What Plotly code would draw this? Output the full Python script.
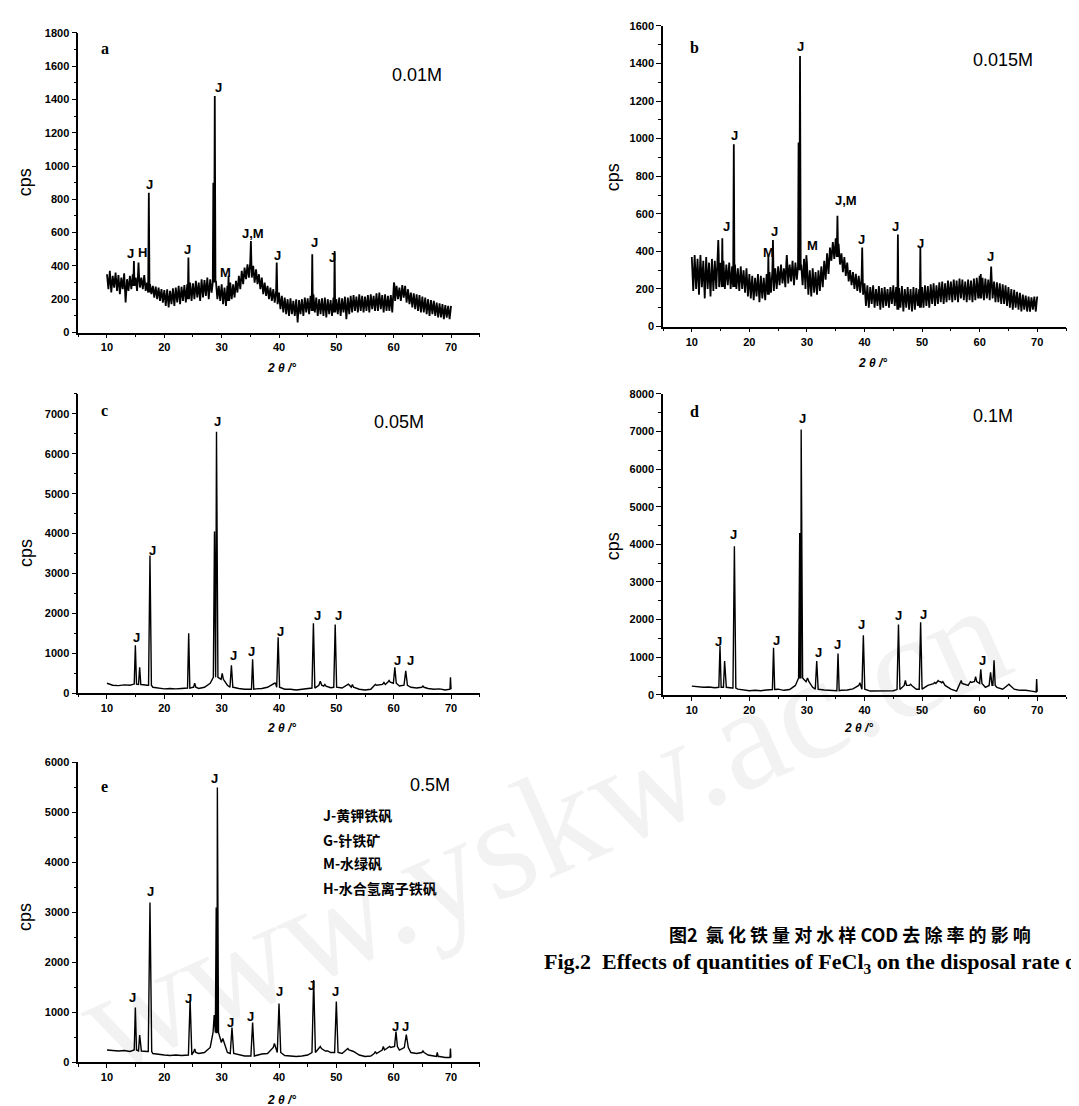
import numpy as np
import plotly.graph_objects as go

W, H = 1079, 1106

# ---------------- data ----------------
x_fine = np.arange(10, 70.001, 0.25)   # panels a, b background grid (2theta)
x_coarse = np.arange(10, 70.001, 1.0)  # panels c, d, e background grid

# Panel a: 0.01M  (noisy background, 0.25 deg steps)
a_bg = [350, 260, 370, 240, 340, 270, 360, 250, 345, 230, 330, 260, 355, 180, 320, 250, 340, 260, 350, 280,
        330, 250, 340, 270, 330, 260, 345, 250, 300, 240, 290, 230, 280, 210, 275, 200, 270, 190, 260, 180,
        255, 160, 260, 150, 250, 170, 265, 160, 270, 180, 280, 170, 275, 190, 285, 180, 290, 200, 300, 190,
        295, 200, 310, 210, 300, 190, 320, 210, 315, 220, 330, 200, 320, 240, 300, 300, 310, 200, 280, 190,
        290, 170, 270, 160, 280, 190, 300, 200, 290, 210, 310, 240, 340, 260, 370, 290, 390, 320, 410, 330,
        420, 330, 400, 300, 380, 290, 350, 260, 330, 230, 300, 220, 280, 200, 270, 190, 260, 180, 250, 170,
        240, 140, 220, 120, 210, 110, 200, 100, 205, 110, 190, 100, 200, 60, 195, 110, 200, 100, 210, 120,
        205, 110, 220, 130, 230, 120, 210, 100, 200, 110, 205, 100, 210, 90, 200, 110, 195, 100, 210, 120,
        200, 110, 210, 100, 205, 120, 215, 80, 210, 110, 220, 120, 225, 130, 215, 120, 230, 130, 220, 120,
        215, 130, 225, 120, 230, 140, 220, 130, 235, 130, 240, 140, 225, 120, 230, 130, 220, 130, 225, 120,
        290, 190, 280, 200, 270, 190, 285, 210, 280, 180, 260, 170, 240, 150, 235, 140, 230, 130, 225, 120,
        215, 120, 210, 110, 200, 100, 195, 110, 190, 100, 180, 90, 175, 90, 170, 80, 165, 90, 160, 80,
        160]
a_pk_pos = [14.7, 15.5, 17.3, 24.2, 28.55, 28.8, 31.2, 35.1, 39.6, 45.8, 49.7, 60.05]
a_pk_h = [430, 420, 840, 450, 900, 1420, 340, 550, 420, 470, 490, 300]
a_pk_w = [0.1, 0.1, 0.12, 0.1, 0.1, 0.12, 0.12, 0.12, 0.1, 0.1, 0.1, 0.06]
a_lab_x = [14.1, 16.2, 17.45, 24.1, 29.5, 30.7, 35.5, 39.8, 46.2, 49.4]
a_lab_y = [477, 480, 887, 501, 1474, 362, 596, 461, 541, 452]
a_lab_t = ["J", "H", "J", "J", "J", "M", "J,M", "J", "J", "J"]

# Panel b: 0.015M
b_bg = [370, 190, 380, 200, 360, 170, 380, 210, 350, 150, 370, 200, 340, 160, 360, 190, 350, 200, 380, 210,
        340, 210, 350, 200, 330, 220, 340, 200, 320, 210, 330, 200, 310, 190, 320, 200, 300, 180, 310, 160,
        280, 150, 270, 140, 260, 160, 280, 130, 270, 150, 260, 140, 280, 170, 290, 180, 300, 190, 310, 200,
        320, 220, 330, 230, 310, 210, 340, 230, 330, 240, 350, 220, 340, 250, 320, 300, 330, 220, 360, 200,
        340, 170, 300, 160, 310, 180, 290, 170, 300, 190, 320, 210, 350, 250, 390, 280, 420, 350, 450, 360,
        470, 370, 440, 330, 390, 290, 370, 270, 340, 240, 300, 220, 290, 200, 280, 190, 270, 180, 260, 170,
        230, 110, 220, 100, 210, 120, 220, 100, 200, 110, 215, 90, 205, 100, 210, 110, 200, 100, 210, 120,
        220, 110, 210, 90, 205, 100, 215, 80, 200, 100, 210, 90, 200, 80, 210, 90, 205, 110, 200, 100,
        210, 100, 220, 110, 215, 100, 225, 120, 230, 110, 220, 120, 235, 130, 240, 120, 230, 130, 245, 140,
        240, 130, 250, 140, 245, 130, 255, 150, 250, 140, 240, 130, 250, 140, 245, 130, 255, 140, 260, 150,
        270, 150, 260, 140, 255, 150, 250, 140, 245, 150, 240, 130, 235, 130, 230, 120, 225, 120, 220, 110,
        210, 100, 200, 90, 195, 100, 185, 90, 180, 80, 170, 90, 165, 80, 160, 80, 155, 90, 160, 80,
        160]
b_pk_pos = [14.6, 15.3, 17.3, 23.3, 24.1, 26.5, 28.55, 28.8, 29.9, 35.3, 39.6, 45.8, 49.7, 60.2, 62.0]
b_pk_h = [460, 470, 970, 380, 460, 380, 980, 1440, 380, 590, 420, 490, 420, 280, 320]
b_pk_w = [0.08, 0.1, 0.12, 0.1, 0.1, 0.08, 0.1, 0.12, 0.1, 0.12, 0.1, 0.1, 0.1, 0.08, 0.1]
b_lab_x = [16.0, 17.5, 23.3, 24.4, 28.9, 30.9, 36.8, 39.4, 45.3, 49.7, 61.9]
b_lab_y = [532, 1017, 396, 505, 1488, 432, 672, 465, 532, 444, 374]
b_lab_t = ["J", "J", "M", "J", "J", "M", "J,M", "J", "J", "J", "J"]

# Panel c: 0.05M
c_bg = [250, 200, 190, 210, 200, 230, 220, 200, 150, 130,
        110, 120, 110, 120, 130, 150, 120, 150, 250, 400,
        350, 200, 150, 120, 100, 100, 110, 120, 150, 250,
        150, 100, 100, 80, 100, 120, 130, 200, 180, 140,
        150, 130, 200, 150, 100, 80, 100, 200, 220, 280,
        250, 180, 200, 150, 130, 150, 120, 100, 110, 80,
        100]
c_pk_pos = [14.95, 15.7, 17.5, 24.25, 25.3, 28.75, 29.1, 30.1, 31.7, 35.4, 39.2, 39.85,
            46.0, 47.2, 48.0, 49.8, 52.1, 52.8, 56.8, 58.3, 59.2, 60.2, 62.1, 65.1, 69.9]
c_pk_h = [1200, 650, 3450, 1500, 250, 4050, 6550, 500, 700, 850, 250, 1400,
          1750, 300, 220, 1720, 230, 220, 220, 270, 320, 650, 560, 180, 400]
c_pk_w = [0.2, 0.2, 0.25, 0.2, 0.2, 0.2, 0.25, 0.2, 0.25, 0.2, 0.2, 0.25,
          0.25, 0.25, 0.2, 0.25, 0.2, 0.2, 0.2, 0.25, 0.2, 0.25, 0.3, 0.2, 0.08]
c_lab_x = [15.1, 17.9, 29.2, 32.1, 35.2, 40.2, 46.7, 50.3, 60.6, 62.9]
c_lab_y = [1405, 3580, 6800, 950, 1058, 1545, 1943, 1960, 828, 810]
c_lab_t = ["J"] * 10

# Panel d: 0.1M
d_bg = [230, 210, 200, 210, 190, 200, 200, 180, 150, 120,
        110, 120, 110, 130, 140, 150, 120, 140, 250, 450,
        350, 200, 150, 130, 120, 110, 120, 130, 160, 250,
        150, 100, 100, 90, 100, 110, 140, 250, 250, 150,
        150, 250, 300, 350, 250, 150, 100, 300, 250, 350,
        300, 200, 250, 200, 150, 250, 150, 120, 120, 100,
        80]
d_pk_pos = [14.9, 15.7, 17.4, 24.2, 28.75, 29.0, 30.1, 31.7, 35.4, 39.2, 39.8, 45.9,
            47.1, 48.0, 49.75, 52.2, 52.8, 53.4, 56.8, 58.6, 59.3, 60.2, 61.9, 62.5, 65.1, 69.9]
d_pk_h = [1300, 900, 3950, 1250, 4300, 7050, 450, 900, 1100, 320, 1580, 1870,
          380, 280, 1930, 330, 380, 320, 380, 330, 480, 680, 600, 920, 280, 420]
d_pk_w = [0.2, 0.2, 0.25, 0.2, 0.2, 0.25, 0.25, 0.25, 0.2, 0.2, 0.25, 0.25,
          0.2, 0.2, 0.25, 0.2, 0.2, 0.2, 0.15, 0.2, 0.2, 0.2, 0.25, 0.2, 0.2, 0.08]
d_lab_x = [14.6, 17.3, 24.7, 29.2, 32.0, 35.3, 39.5, 45.9, 50.2, 60.5]
d_lab_y = [1420, 4250, 1446, 7335, 1138, 1330, 1882, 2103, 2129, 920]
d_lab_t = ["J"] * 10

# Panel e: 0.5M
e_bg = [250, 240, 230, 240, 220, 250, 230, 220, 180, 160,
        150, 140, 150, 140, 150, 200, 180, 200, 300, 600,
        400, 200, 180, 150, 130, 130, 140, 170, 180, 300,
        200, 140, 130, 120, 130, 150, 200, 280, 230, 200,
        200, 180, 250, 220, 150, 120, 130, 180, 250, 300,
        320, 250, 300, 200, 180, 200, 150, 130, 120, 100,
        100]
e_pk_pos = [14.95, 15.7, 17.5, 24.5, 25.3, 28.7, 29.05, 29.25, 30.2, 31.8, 35.4, 39.2, 40.0,
            46.05, 47.2, 48.3, 50.0, 52.0, 56.8, 58.2, 59.3, 60.4, 62.2, 65.1, 67.6, 69.9]
e_pk_h = [1100, 550, 3200, 1250, 270, 950, 3100, 5500, 480, 700, 800, 380, 1180,
          1650, 320, 230, 1220, 280, 220, 320, 320, 620, 560, 230, 200, 280]
e_pk_w = [0.2, 0.2, 0.3, 0.3, 0.2, 0.2, 0.15, 0.2, 0.25, 0.3, 0.3, 0.2, 0.3,
          0.3, 0.2, 0.2, 0.3, 0.2, 0.2, 0.2, 0.2, 0.25, 0.35, 0.2, 0.15, 0.08]
e_lab_x = [14.5, 17.6, 24.3, 28.8, 31.6, 35.1, 40.0, 45.6, 49.9, 60.4, 62.0]
e_lab_y = [1306, 3428, 1286, 5671, 805, 924, 1418, 1549, 1418, 712, 712]
e_lab_t = ["J"] * 11

legend_lines = ["J-黄钾铁矾", "G-针铁矿", "M-水绿矾", "H-水合氢离子铁矾"]
legend_y = [4946, 4451, 3990, 3495]

panel_letters = ["a", "b", "c", "d", "e"]
panel_conc = ["0.01M", "0.015M", "0.05M", "0.1M", "0.5M"]
panel_ymax = [1800, 1600, 7500, 8000, 6000]
panel_dtick = [200, 200, 1000, 1000, 1000]
letter_pos = [(9.6, 1705), (10.5, 1483), (9.6, 7080), (10.5, 7534), (9.6, 5525)]
conc_pos = [(64.0, 1547), (64.0, 1417), (60.9, 6790), (62.4, 7400), (66.3, 5540)]

caption_cn = "图2  氯 化 铁 量 对 水 样 COD 去 除 率 的 影 响"
caption_en = "Fig.2  Effects of quantities of FeCl<sub>3</sub> on the disposal rate of COD"
watermark = "www.yskw.ac.cn"


def build(xg, yg, pos, hts, wid):
    xg = np.asarray(xg, float)
    yg = np.asarray(yg, float)
    assert len(xg) == len(yg), (len(xg), len(yg))
    keep = np.ones(len(xg), bool)
    for p, w in zip(pos, wid):
        keep &= ~(np.abs(xg - p) < w - 1e-9)
    xs = list(xg[keep])
    ys = list(yg[keep])
    for p, h, w in zip(pos, hts, wid):
        b = yg[np.argmin(np.abs(xg - p))]
        xs += [p - w, p, p + w]
        ys += [b, h, b]
    order = np.argsort(xs, kind="stable")
    return np.array(xs)[order], np.array(ys)[order]


series = [
    build(x_fine, a_bg, a_pk_pos, a_pk_h, a_pk_w),
    build(x_fine, b_bg, b_pk_pos, b_pk_h, b_pk_w),
    build(x_coarse, c_bg, c_pk_pos, c_pk_h, c_pk_w),
    build(x_coarse, d_bg, d_pk_pos, d_pk_h, d_pk_w),
    build(x_coarse, e_bg, e_pk_pos, e_pk_h, e_pk_w),
]
labels = [
    (a_lab_x, a_lab_y, a_lab_t),
    (b_lab_x, b_lab_y, b_lab_t),
    (c_lab_x, c_lab_y, c_lab_t),
    (d_lab_x, d_lab_y, d_lab_t),
    (e_lab_x, e_lab_y, e_lab_t),
]

# ---------------- layout geometry (pixels) ----------------
boxes = [
    (70.3, 471.7, 19, 322),
    (655, 1058, 12, 316),
    (70.3, 471.7, 384, 686.7),
    (655, 1058, 384, 688.3),
    (70.3, 471.7, 756.7, 1060),
]
cps_pos = [(17, 170), (605, 165), (18, 545), (605, 538), (17, 913)]
xt_pos = [(273, 358), (864, 353), (273, 722), (850, 722), (273, 1098)]


def px(xp):
    return xp / W


def py(yp):
    return 1 - yp / H


SANS = "Liberation Sans, Arial, sans-serif"
SERIF = "Liberation Serif, Times New Roman, serif"
CJK = "Noto Sans CJK SC"

fig = go.Figure()
layout = dict(
    width=W, height=H,
    margin=dict(l=0, r=0, t=0, b=0),
    paper_bgcolor="white", plot_bgcolor="white",
    showlegend=False,
)
annotations = []

# watermark
annotations.append(dict(x=px(535), y=py(822), xref="paper", yref="paper",
                        text=watermark, showarrow=False, textangle=-24,
                        xanchor="center", yanchor="middle",
                        font=dict(family=SERIF, size=148, color="rgba(0,0,0,0.05)")))

for i in range(5):
    k = "" if i == 0 else str(i + 1)
    xs, ys = series[i]
    lw = 1.8 if i < 2 else 1.4
    fig.add_trace(go.Scatter(x=xs, y=ys, mode="lines",
                             line=dict(color="black", width=lw),
                             xaxis="x" + k, yaxis="y" + k, hoverinfo="skip"))
    l, r, t, b = boxes[i]
    axfont = dict(family=SANS, size=11, color="black", weight="bold")
    layout["xaxis" + k] = dict(
        domain=[px(l), px(r)], anchor="y" + k, range=[5, 75],
        tick0=10, dtick=10, showgrid=False, zeroline=False,
        showline=True, linecolor="black", linewidth=1.5,
        ticks="outside", ticklen=4, tickwidth=1.3, tickcolor="black",
        minor=dict(ticks="outside", ticklen=2.5, tickwidth=1, dtick=5, tick0=5, tickcolor="black"),
        tickfont=axfont,
    )
    layout["yaxis" + k] = dict(
        domain=[py(b), py(t)], anchor="x" + k, range=[0, panel_ymax[i]],
        tick0=0, dtick=panel_dtick[i], showgrid=False, zeroline=False,
        showline=True, linecolor="black", linewidth=1.5,
        ticks="outside", ticklen=5, tickwidth=1.3, tickcolor="black",
        minor=dict(ticks="outside", ticklen=3, tickwidth=1, dtick=panel_dtick[i] / 2, tickcolor="black"),
        tickfont=axfont,
    )
    lx, ly, lt = labels[i]
    for xx, yy, tt in zip(lx, ly, lt):
        annotations.append(dict(x=xx, y=yy, xref="x" + k, yref="y" + k, text=tt,
                                showarrow=False, xanchor="center", yanchor="middle",
                                font=dict(family=SANS, size=13, color="black", weight="bold")))
    annotations.append(dict(x=letter_pos[i][0], y=letter_pos[i][1], xref="x" + k, yref="y" + k,
                            text=panel_letters[i], showarrow=False, xanchor="center", yanchor="middle",
                            font=dict(family=SERIF, size=16, color="black", weight="bold")))
    annotations.append(dict(x=conc_pos[i][0], y=conc_pos[i][1], xref="x" + k, yref="y" + k,
                            text=panel_conc[i], showarrow=False, xanchor="center", yanchor="middle",
                            font=dict(family=SANS, size=18, color="black")))
    annotations.append(dict(x=px(cps_pos[i][0]), y=py(cps_pos[i][1]), xref="paper", yref="paper",
                            text="cps", textangle=-90, showarrow=False,
                            xanchor="center", yanchor="middle",
                            font=dict(family=SANS, size=18, color="black")))
    annotations.append(dict(x=px(xt_pos[i][0]), y=py(xt_pos[i][1]), xref="paper", yref="paper",
                            text="<i>2 θ /°</i>", showarrow=False,
                            xanchor="center", yanchor="middle",
                            font=dict(family=SANS, size=12, color="black", weight="bold")))

for txt, yy in zip(legend_lines, legend_y):
    annotations.append(dict(x=47.4, y=yy, xref="x5", yref="y5", text=txt, showarrow=False,
                            xanchor="left", yanchor="middle",
                            font=dict(family=CJK, size=14, color="black", weight="bold")))

annotations.append(dict(x=px(842), y=py(930), xref="paper", yref="paper",
                        text=caption_cn, showarrow=False,
                        xanchor="center", yanchor="middle",
                        font=dict(family=CJK, size=18, color="black", weight="bold")))
annotations.append(dict(x=px(534), y=py(959), xref="paper", yref="paper",
                        text=caption_en,
                        showarrow=False, xanchor="left", yanchor="middle",
                        font=dict(family=SERIF, size=22, color="black", weight="bold")))

layout["annotations"] = annotations
fig.update_layout(**layout)
fig.write_html("out.html")
